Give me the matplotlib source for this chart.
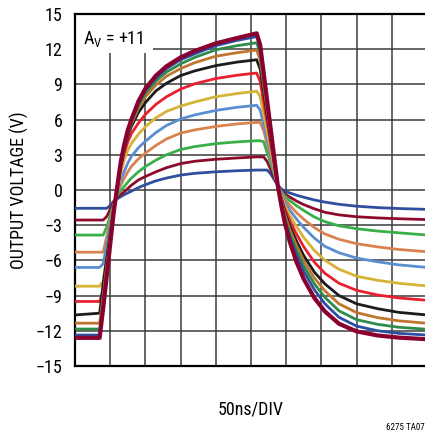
import os
import matplotlib
matplotlib.use("Agg")
import matplotlib.pyplot as plt
from matplotlib import font_manager as fm
from matplotlib.patches import Rectangle


def find_narrow_font():
    # the reference uses a condensed sans; take the first one that is installed
    wanted = ["liberationsansnarrow-regular", "robotocondensed-regular", "robotocondensed[",
              "dejavusanscondensed.ttf", "opensans_condensed-regular", "opensanscondensed"]
    for key in wanted:
        for f in fm.fontManager.ttflist:
            base = os.path.basename(f.fname).lower()
            if key in base and not any(s in base for s in ("italic", "oblique", "bold", "light", "thin")):
                return f.fname
    return None


narrow = find_narrow_font()
if narrow:
    fam = fm.FontProperties(fname=narrow).get_name()
    plt.rcParams['font.family'] = [fam, 'Liberation Sans', 'DejaVu Sans']
    plt.rcParams['font.stretch'] = 'condensed'
    FS = 13
else:
    fam = 'Liberation Sans'
    plt.rcParams['font.family'] = ['Liberation Sans', 'DejaVu Sans']
    FS = 12
plt.rcParams['mathtext.fontset'] = 'custom'
plt.rcParams['mathtext.rm'] = fam
plt.rcParams['mathtext.it'] = fam

# time axis (ns), 50 ns per division
t_ns = [0, 35, 40, 45, 50, 55, 60, 65, 70, 75, 80, 90, 100, 115, 130, 150, 170, 200, 230, 258,
        263, 268, 273, 278, 283, 288, 293, 298, 305, 315, 325, 340, 355, 375, 400, 430, 460, 500]

# output voltage traces (V), smallest to largest swing
v_blue_small = [-1.56, -1.56, -1.56, -1.56, -1.33, -0.95, -0.75, -0.57, -0.4, -0.25, -0.1, 0.2, 0.45, 0.78, 1.02, 1.27, 1.42, 1.55, 1.64, 1.7,
                1.7, 1.7, 1.7, 1.37, 0.88, 0.4, 0.1, -0.1, -0.25, -0.45, -0.62, -0.85, -1.03, -1.22, -1.38, -1.5, -1.58, -1.65]
v_maroon_small = [-2.56, -2.56, -2.56, -2.27, -1.66, -1.05, -0.6, -0.38, -0.15, 0.13, 0.4, 0.85, 1.15, 1.55, 1.9, 2.25, 2.45, 2.62, 2.73, 2.82,
                  2.82, 2.82, 2.42, 1.75, 1.07, 0.4, -0.05, -0.35, -0.6, -0.95, -1.25, -1.6, -1.9, -2.12, -2.28, -2.38, -2.45, -2.52]
v_green_small = [-3.84, -3.84, -3.84, -3.17, -2.18, -1.2, -0.45, -0.05, 0.3, 0.67, 1.0, 1.55, 2.0, 2.55, 3.0, 3.45, 3.7, 3.95, 4.1, 4.2,
                 4.2, 4.11, 3.18, 2.26, 1.33, 0.4, -0.15, -0.5, -0.9, -1.35, -1.75, -2.3, -2.7, -3.05, -3.3, -3.5, -3.65, -3.84]
v_orange = [-5.3, -5.3, -5.3, -3.98, -2.65, -1.33, -0.3, 0.4, 1.0, 1.55, 2.0, 2.65, 3.15, 3.8, 4.35, 4.85, 5.12, 5.42, 5.63, 5.76,
            5.76, 5.06, 3.9, 2.73, 1.57, 0.4, -0.25, -0.75, -1.3, -1.95, -2.5, -3.2, -3.75, -4.2, -4.58, -4.85, -5.07, -5.26]
v_lightblue = [-6.6, -6.6, -6.28, -4.67, -3.06, -1.44, -0.2, 0.85, 1.6, 2.3, 2.85, 3.6, 4.15, 4.9, 5.5, 6.05, 6.4, 6.78, 7.05, 7.22,
               6.83, 5.55, 4.26, 2.98, 1.69, 0.4, -0.35, -1.0, -1.7, -2.5, -3.2, -4.1, -4.8, -5.35, -5.8, -6.12, -6.38, -6.6]
v_yellow = [-8.2, -8.2, -7.79, -5.73, -3.68, -1.62, -0.1, 1.45, 2.6, 3.4, 3.95, 4.75, 5.4, 6.15, 6.7, 7.15, 7.5, 7.95, 8.22, 8.42,
            7.97, 6.45, 4.94, 3.42, 1.91, 0.4, -0.5, -1.3, -2.15, -3.15, -4.05, -5.15, -6.0, -6.75, -7.35, -7.7, -7.95, -8.18]
v_red = [-9.5, -9.5, -8.58, -6.29, -4.0, -1.72, 0.0, 1.85, 3.2, 4.1, 4.8, 5.7, 6.45, 7.3, 7.95, 8.6, 9.05, 9.5, 9.78, 9.97,
         9.26, 7.49, 5.72, 3.94, 2.17, 0.4, -0.65, -1.6, -2.6, -3.8, -4.85, -6.15, -7.1, -7.95, -8.55, -8.95, -9.2, -9.4]
v_black = [-10.65, -10.5, -8.0, -5.8, -3.7, -1.6, 0.1, 2.05, 3.5, 4.6, 5.4, 6.6, 7.45, 8.45, 9.1, 9.75, 10.15, 10.6, 10.9, 11.1,
           10.31, 8.33, 6.35, 4.36, 2.38, 0.4, -0.8, -1.9, -3.05, -4.4, -5.6, -7.0, -8.0, -9.0, -9.7, -10.12, -10.43, -10.65]
v_brown = [-11.35, -11.35, -9.0, -6.5, -4.1, -1.7, 0.15, 2.2, 3.7, 4.8, 5.65, 6.95, 7.95, 8.95, 9.7, 10.35, 10.85, 11.4, 11.7, 11.93,
           11.08, 8.94, 6.8, 4.67, 2.53, 0.4, -0.9, -2.1, -3.35, -4.8, -6.05, -7.5, -8.6, -9.7, -10.45, -10.88, -11.15, -11.36]
v_green_large = [-11.85, -11.85, -9.5, -6.9, -4.4, -1.85, 0.2, 2.3, 3.8, 4.95, 5.8, 7.2, 8.25, 9.3, 10.05, 10.75, 11.3, 11.95, 12.3, 12.55,
                 11.65, 9.4, 7.15, 4.9, 2.65, 0.4, -1.0, -2.35, -3.7, -5.2, -6.5, -8.0, -9.15, -10.3, -11.05, -11.45, -11.7, -11.87]
v_blue_large = [-12.36, -12.36, -9.7, -7.1, -4.5, -1.9, 0.25, 2.35, 3.85, 5.0, 5.9, 7.4, 8.5, 9.55, 10.35, 11.1, 11.6, 12.3, 12.75, 13.07,
                12.13, 9.79, 7.44, 5.1, 2.75, 0.4, -1.15, -2.6, -4.0, -5.6, -6.95, -8.5, -9.7, -10.85, -11.6, -12.0, -12.22, -12.36]
v_maroon_large = [-12.6, -12.6, -10.1, -7.4, -4.64, -1.9, 0.3, 2.4, 3.9, 5.1, 6.0, 7.55, 8.65, 9.75, 10.55, 11.3, 11.85, 12.5, 12.95, 13.35,
                  12.39, 9.99, 7.59, 5.2, 2.8, 0.4, -1.3, -2.8, -4.4, -6.2, -7.6, -9.2, -10.35, -11.4, -12.05, -12.4, -12.58, -12.72]

y_ticks = list(range(-15, 16, 3))

traces = [
    (v_blue_small, "#2f4f9e", 2.0),
    (v_maroon_small, "#8c0a2c", 2.0),
    (v_green_small, "#3aae49", 2.0),
    (v_orange, "#d8834e", 2.0),
    (v_lightblue, "#5b8ed0", 2.0),
    (v_yellow, "#d6b236", 2.0),
    (v_red, "#e8202f", 2.0),
    (v_black, "#1c1c1c", 2.0),
    (v_brown, "#c0762f", 2.0),
    (v_green_large, "#2e8b4a", 2.0),
    (v_blue_large, "#2c4fa3", 2.0),
    (v_maroon_large, "#8a0030", 3.0),
]

fig = plt.figure(figsize=(4.25, 4.34), dpi=100)
ax = fig.add_axes([75 / 425, 1 - 366 / 434, 352 / 425, 352 / 434])

for vals, color, lw in traces:
    ax.plot(t_ns, vals, color=color, lw=lw, solid_capstyle="round",
            solid_joinstyle="round", zorder=3)

ax.set_xlim(0, 500)
ax.set_ylim(-15, 15)
ax.set_xticks(range(0, 501, 50))
ax.set_yticks(y_ticks)
ax.set_xticklabels([])
ax.grid(True, color="#3c3c3c", lw=1.1, zorder=1)
ax.set_axisbelow(True)
ax.tick_params(axis="both", length=0, labelsize=FS, pad=9)
for side in ("left", "top", "bottom"):
    ax.spines[side].set_linewidth(1.6)
ax.spines["right"].set_visible(False)

# label box in the upper left corner
ax.add_patch(Rectangle((0, 0.889), 0.2216, 0.111, transform=ax.transAxes,
                       facecolor="white", edgecolor="none", zorder=2))
ax.text(8 / 352, 0.916, r"A$_\mathrm{V}$ = +11", transform=ax.transAxes,
        fontsize=FS, ha="left", va="baseline", zorder=4)

ax.set_ylabel("OUTPUT VOLTAGE (V)", fontsize=FS, labelpad=5)
fig.text(251 / 425, 1 - 410 / 434, "50ns/DIV", fontsize=FS, ha="center", va="center")
fig.text(1.0, 1 - 428 / 434, "6275 TA07", fontsize=6.5, ha="right", va="center")

fig.savefig("out.png", dpi=100)
